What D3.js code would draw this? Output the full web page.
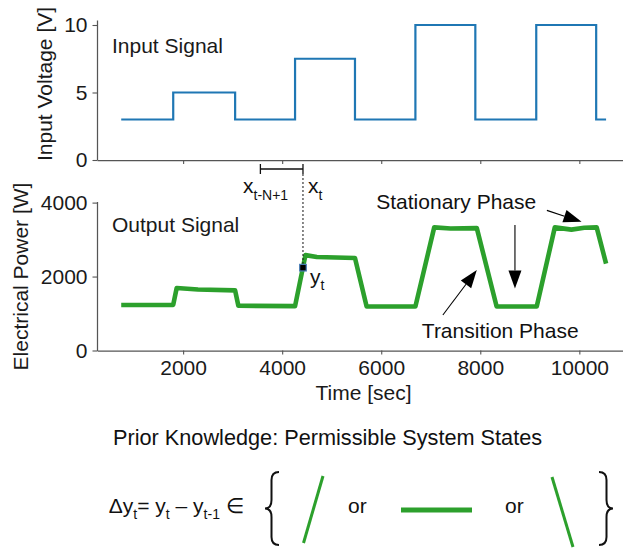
<!DOCTYPE html>
<html>
<head>
<meta charset="utf-8">
<script src="https://cdn.jsdelivr.net/npm/d3@7"></script>
<style>
  html, body { margin: 0; padding: 0; background: #fff; }
  svg { display: block; font-family: "Liberation Sans", Arial, sans-serif; }
</style>
</head>
<body>
<svg id="chart" width="623" height="548"></svg>
<script>
// Input voltage: level held from each switching time until the next one
const inputTimes = [750, 1800, 3050, 4260, 5470, 6690, 7900, 9130, 10340, 10540];
const inputVolts = [3, 5, 3, 7.5, 3, 10, 3, 10, 3, 3];

// Measured electrical power (breakpoints of the response)
const outputTime  = [750, 1800, 1870, 2300, 3050, 3115, 4260, 4470, 4700, 5470, 5705,
                     6690, 7070, 7400, 7930, 8330, 9140, 9505, 9840, 10100, 10350, 10540];
const outputPower = [1230, 1235, 1690, 1650, 1625, 1210, 1200, 2580, 2530, 2500, 1190,
                     1190, 3330, 3300, 3310, 1190, 1190, 3330, 3270, 3320, 3330, 2350];

// Ticks
const timeTicks   = [2000, 4000, 6000, 8000, 10000];
const voltTicks   = [0, 5, 10];
const powerTicks  = [0, 2000, 4000];

// Sliding window annotation (time points and current output value)
const windowStart = 3560;
const windowEnd   = 4420;
const currentY    = 2240;

const svg = d3.select("#chart");
const spine = "#555";
const textCol = "#1a1a1a";
const blue = "#1f77b4";
const green = "#2ca02c";

const x = d3.scaleLinear().domain([261, 11023]).range([97, 630]);
const yTop = d3.scaleLinear().domain([0, 10.37]).range([160, 20]);
const yBot = d3.scaleLinear().domain([0, 4030]).range([350.5, 201.5]);

function styleAxis(g) {
  g.selectAll(".domain").attr("stroke", spine).attr("stroke-width", 1.25);
  g.selectAll(".tick line").attr("stroke", spine).attr("stroke-width", 1.1);
  g.selectAll(".tick text").attr("fill", textCol).attr("font-size", 21)
    .attr("font-family", '"Liberation Sans", Arial, sans-serif');
}

// ---- Top panel: input voltage ----
svg.append("g").attr("transform", "translate(97,0)")
  .call(d3.axisLeft(yTop).tickValues(voltTicks).tickSize(4.5).tickSizeOuter(0).tickPadding(5)
    .tickFormat(d3.format("d")))
  .call(styleAxis);
svg.append("g").attr("transform", "translate(0,160)")
  .call(d3.axisBottom(x).tickValues(timeTicks).tickSize(4).tickSizeOuter(0).tickFormat(""))
  .call(styleAxis);

const inputPts = inputTimes.map((t, i) => [t, inputVolts[i]]);
svg.append("path")
  .datum(inputPts)
  .attr("fill", "none")
  .attr("stroke", blue)
  .attr("stroke-width", 2.2)
  .attr("d", d3.line().x(d => x(d[0])).y(d => yTop(d[1])).curve(d3.curveStepAfter));

svg.append("text").attr("x", 112).attr("y", 53).attr("font-size", 21).attr("fill", textCol)
  .text("Input Signal");
svg.append("text")
  .attr("transform", "translate(52,84) rotate(-90)")
  .attr("text-anchor", "middle").attr("font-size", 21).attr("fill", textCol)
  .text("Input Voltage [V]");

// ---- Bottom panel: output power ----
svg.append("g").attr("transform", "translate(97,0)")
  .call(d3.axisLeft(yBot).tickValues(powerTicks).tickSize(4.5).tickSizeOuter(0).tickPadding(5)
    .tickFormat(d3.format("d")))
  .call(styleAxis);
svg.append("g").attr("transform", "translate(0,350.5)")
  .call(d3.axisBottom(x).tickValues(timeTicks).tickSize(4).tickSizeOuter(0).tickPadding(6)
    .tickFormat(d3.format("d")))
  .call(styleAxis);

const outPts = outputTime.map((t, i) => [t, outputPower[i]]);
svg.append("path")
  .datum(outPts)
  .attr("fill", "none")
  .attr("stroke", green)
  .attr("stroke-width", 4.6)
  .attr("stroke-linejoin", "round")
  .attr("d", d3.line().x(d => x(d[0])).y(d => yBot(d[1])));

svg.append("text").attr("x", 112).attr("y", 232).attr("font-size", 21).attr("fill", textCol)
  .text("Output Signal");
svg.append("text")
  .attr("transform", "translate(27.5,276.5) rotate(-90)")
  .attr("text-anchor", "middle").attr("font-size", 21).attr("fill", textCol)
  .text("Electrical Power [W]");
svg.append("text").attr("x", 363.5).attr("y", 400).attr("text-anchor", "middle")
  .attr("font-size", 21).attr("fill", textCol).text("Time [sec]");

// ---- Sliding window: x_{t-N+1} ... x_t ----
const bx0 = x(windowStart), bx1 = x(windowEnd), by = 169;
const br = svg.append("g").attr("stroke", "#111").attr("stroke-width", 1.3);
br.append("line").attr("x1", bx0).attr("x2", bx1).attr("y1", by).attr("y2", by);
br.append("line").attr("x1", bx0).attr("x2", bx0).attr("y1", by - 5).attr("y2", by + 5);
br.append("line").attr("x1", bx1).attr("x2", bx1).attr("y1", by - 5).attr("y2", by + 5);
svg.append("line").attr("x1", bx1).attr("x2", bx1).attr("y1", by + 5).attr("y2", yBot(currentY) - 3)
  .attr("stroke", "#111").attr("stroke-width", 1).attr("stroke-dasharray", "2,2");
svg.append("rect")
  .attr("x", bx1 - 3.3).attr("y", yBot(currentY) - 3.3).attr("width", 6.6).attr("height", 6.6)
  .attr("fill", "#000").attr("stroke", "#4a7fb8").attr("stroke-width", 1.2);

function subText(px, py, main, sub, size, subSize, dy) {
  const t = svg.append("text").attr("x", px).attr("y", py).attr("font-size", size).attr("fill", "#111");
  t.append("tspan").text(main);
  t.append("tspan").attr("font-size", subSize).attr("dy", dy).text(sub);
  return t;
}
subText(243, 193, "x", "t-N+1", 21, 14, 7);
subText(308, 193, "x", "t", 21, 14, 7);
subText(310, 284, "y", "t", 21, 14, 6);

// ---- Phase annotations ----
function arrow(x1, y1, x2, y2) {
  const dx = x2 - x1, dy = y2 - y1, L = Math.hypot(dx, dy);
  const ux = dx / L, uy = dy / L, hl = 18, hw = 6.5;
  const bx = x2 - ux * hl, byy = y2 - uy * hl;
  svg.append("line").attr("x1", x1).attr("y1", y1).attr("x2", bx).attr("y2", byy)
    .attr("stroke", "#000").attr("stroke-width", 1.1);
  svg.append("polygon")
    .attr("points", [[x2, y2], [bx - uy * hw, byy + ux * hw], [bx + uy * hw, byy - ux * hw]].map(p => p.join(",")).join(" "))
    .attr("fill", "#000");
}
svg.append("text").attr("x", x(5900)).attr("y", yBot(3815)).attr("font-size", 21).attr("fill", "#111")
  .text("Stationary Phase");
arrow(x(9345), yBot(3790), x(10045), yBot(3480));
arrow(x(8700), yBot(3394), x(8700), yBot(1680));
svg.append("text").attr("x", x(6820)).attr("y", yBot(330)).attr("font-size", 21).attr("fill", "#111")
  .text("Transition Phase");
arrow(x(7245), yBot(960), x(7930), yBot(2180));

// ---- Prior knowledge: permissible system states ----
svg.append("text").attr("x", 113).attr("y", 445).attr("font-size", 21.7).attr("fill", "#111")
  .text("Prior Knowledge: Permissible System States");

const f = svg.append("text").attr("x", 108.8).attr("y", 513).attr("font-size", 21).attr("fill", "#111");
f.append("tspan").text("Δy");
f.append("tspan").attr("font-size", 14).attr("dy", 6).text("t");
f.append("tspan").attr("dy", -6).text("= y");
f.append("tspan").attr("font-size", 14).attr("dy", 6).text("t");
f.append("tspan").attr("dy", -6).text(" – y");
f.append("tspan").attr("font-size", 14).attr("dy", 6).text("t-1");
f.append("tspan").attr("dy", -6).text(" ∈");

const braces = svg.append("g").attr("fill", "none").attr("stroke", "#111").attr("stroke-width", 2);
braces.append("path").attr("d",
  "M279,472 Q271.5,472 271.5,480 L271.5,500 Q271.5,508.5 265,508.5 Q271.5,508.5 271.5,517 L271.5,537 Q271.5,545 279,545");
braces.append("path").attr("d",
  "M599,472 Q606.5,472 606.5,480 L606.5,500 Q606.5,508.5 613,508.5 Q606.5,508.5 606.5,517 L606.5,537 Q606.5,545 599,545");

const states = svg.append("g").attr("stroke", green).attr("stroke-linecap", "butt");
states.append("line").attr("x1", 303.5).attr("y1", 543).attr("x2", 323).attr("y2", 476).attr("stroke-width", 3);
states.append("line").attr("x1", 401).attr("y1", 510).attr("x2", 472).attr("y2", 510).attr("stroke-width", 5);
states.append("line").attr("x1", 552).attr("y1", 477).attr("x2", 573).attr("y2", 547).attr("stroke-width", 3);

svg.append("text").attr("x", 348).attr("y", 513).attr("font-size", 21).attr("fill", "#111").text("or");
svg.append("text").attr("x", 505).attr("y", 513).attr("font-size", 21).attr("fill", "#111").text("or");
</script>
</body>
</html>
